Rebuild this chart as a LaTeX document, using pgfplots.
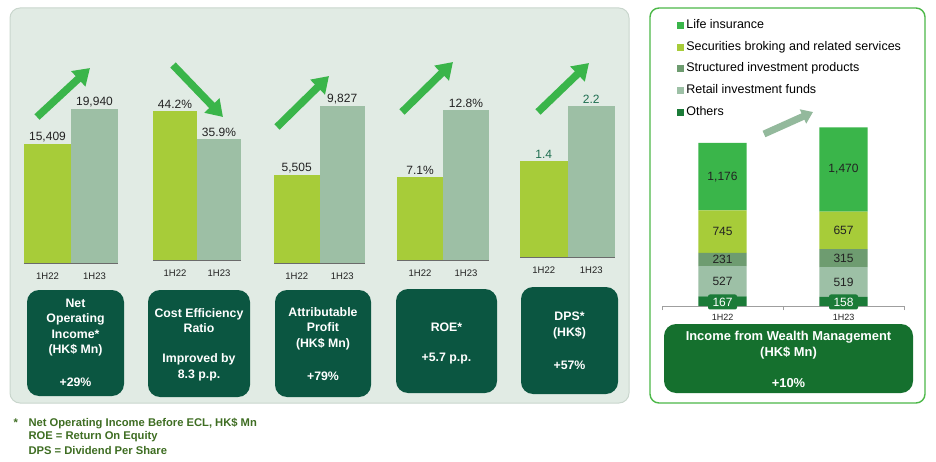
\documentclass[border=0pt]{standalone}
\usepackage{fontspec}
\setmainfont{Liberation Sans}
\usepackage{pgfplots}
\pgfplotsset{compat=1.18}
\usetikzlibrary{arrows.meta}

\definecolor{panelfill}{HTML}{E1EBE4}
\definecolor{panelborder}{HTML}{C9D6CD}
\definecolor{bar22}{HTML}{A7CC39}
\definecolor{bar23}{HTML}{9DBFA5}
\definecolor{arrowgreen}{HTML}{3AB54A}
\definecolor{boxdark}{HTML}{0B5641}
\definecolor{boxgreen}{HTML}{15702E}
\definecolor{lifegreen}{HTML}{3AB54A}
\definecolor{secgreen}{HTML}{A7CC39}
\definecolor{structgreen}{HTML}{6E9C70}
\definecolor{retailgreen}{HTML}{9DC0A6}
\definecolor{othersgreen}{HTML}{1B7B38}
\definecolor{rborder}{HTML}{4CB848}
\definecolor{footgreen}{HTML}{3E6D22}
\definecolor{valdark}{HTML}{1E6E50}
\definecolor{rarrow}{HTML}{93B99C}
\definecolor{textdark}{HTML}{222222}
\definecolor{axisgray}{HTML}{6B6B6B}

\pgfplotsset{
  /pgf/number format/assume math mode=true,
  mini/.style={
    scale only axis, clip=false, ybar, bar shift=0pt, bar width=1,
    enlargelimits=false, xmin=-0.5, xmax=1.5, ymin=0,
    axis x line=bottom, axis y line=none,
    x axis line style={-, draw=axisgray, line width=0.8pt},
    xtick={0,1}, xticklabels={1H22,1H23}, major tick length=0pt,
    xticklabel style={font=\fontsize{9.5}{11}\selectfont, text=textdark, yshift=-6.5pt},
    nodes near coords,
    every node near coord/.append style={font=\fontsize{12}{14}\selectfont, text=textdark, inner sep=2pt},
  },
}

\tikzset{
  boxtxt/.style={align=center, text=white, font=\bfseries\fontsize{12.3}{15.5}\selectfont},
  bigarrow/.style={line width=7.5pt, arrowgreen, -{Triangle[width=20pt,length=16pt]}},
  stlab/.style={font=\fontsize{12}{14}\selectfont, text=textdark},
  otherlab/.style={stlab, fill=othersgreen, text=white, rounded corners=2pt, inner sep=1.5pt, minimum width=29pt, minimum height=15pt},
}

\begin{document}
\begin{tikzpicture}[x=1pt,y=1pt]
\useasboundingbox (0,0) rectangle (936,-462);

% panels
\draw[fill=panelfill, draw=panelborder, line width=1pt, rounded corners=10pt] (10,-8) rectangle (629,-403);
\draw[fill=white, draw=rborder, line width=1.4pt, rounded corners=9pt] (650,-8) rectangle (925,-403);

% mini bar charts
\begin{axis}[mini, at={(24pt,-263pt)}, anchor=south west, width=94pt, height=154pt, ymax=19940,
  /pgf/number format/fixed, /pgf/number format/precision=0, /pgf/number format/1000 sep={,}]
\addplot[fill=bar22, draw=none] coordinates {(0,15409)};
\addplot[fill=bar23, draw=none] coordinates {(1,19940)};
\end{axis}

\begin{axis}[mini, at={(153pt,-260pt)}, anchor=south west, width=88pt, height=149pt, ymax=44.2,
  nodes near coords={\pgfmathprintnumber[fixed,fixed zerofill,precision=1]{\pgfplotspointmeta}\%}]
\addplot[fill=bar22, draw=none] coordinates {(0,44.2)};
\addplot[fill=bar23, draw=none] coordinates {(1,35.9)};
\end{axis}

\begin{axis}[mini, at={(274pt,-263pt)}, anchor=south west, width=91pt, height=157pt, ymax=9827,
  /pgf/number format/fixed, /pgf/number format/precision=0, /pgf/number format/1000 sep={,}]
\addplot[fill=bar22, draw=none] coordinates {(0,5505)};
\addplot[fill=bar23, draw=none] coordinates {(1,9827)};
\end{axis}

\begin{axis}[mini, at={(397pt,-260pt)}, anchor=south west, width=92pt, height=150pt, ymax=12.8,
  nodes near coords={\pgfmathprintnumber[fixed,fixed zerofill,precision=1]{\pgfplotspointmeta}\%}]
\addplot[fill=bar22, draw=none] coordinates {(0,7.1)};
\addplot[fill=bar23, draw=none] coordinates {(1,12.8)};
\end{axis}

\begin{axis}[mini, at={(520pt,-257pt)}, anchor=south west, width=95pt, height=151pt, ymax=2.2,
  nodes near coords={\pgfmathprintnumber[fixed,fixed zerofill,precision=1]{\pgfplotspointmeta}},
  every node near coord/.append style={text=valdark}]
\addplot[fill=bar22, draw=none] coordinates {(0,1.4)};
\addplot[fill=bar23, draw=none] coordinates {(1,2.2)};
\end{axis}

% trend arrows
\draw[bigarrow] (37,-117) -- (90,-68);
\draw[bigarrow] (173,-65) -- (223,-117);
\draw[bigarrow] (277,-127) -- (329,-76);
\draw[bigarrow] (402,-112) -- (453,-62);
\draw[bigarrow] (538,-112) -- (589,-63);

% dark boxes
\fill[boxdark, rounded corners=12pt] (27,-290) rectangle (124,-396);
\node[boxtxt] at (75.5,-327.5) {Net\\Operating\\Income*\\(HK\$ Mn)};
\node[boxtxt] at (75.5,-382) {+29\%};

\fill[boxdark, rounded corners=12pt] (148,-290) rectangle (250,-397);
\node[boxtxt] at (199,-320.5) {Cost Efficiency\\Ratio};
\node[boxtxt] at (199,-367.5) {Improved by\\8.3 p.p.};

\fill[boxdark, rounded corners=12pt] (275,-290) rectangle (371,-397);
\node[boxtxt] at (323,-328.5) {Attributable\\Profit\\(HK\$ Mn)};
\node[boxtxt] at (323,-376) {+79\%};

\fill[boxdark, rounded corners=12pt] (396,-289) rectangle (497,-393);
\node[boxtxt] at (446.5,-327) {ROE*};
\node[boxtxt] at (446.5,-359) {+5.7 p.p.};

\fill[boxdark, rounded corners=12pt] (521,-287) rectangle (618,-394);
\node[boxtxt] at (569.5,-325.5) {DPS*\\(HK\$)};
\node[boxtxt] at (569.5,-365) {+57\%};

% footnotes
\begin{scope}[every node/.style={anchor=west, text=footgreen, font=\bfseries\fontsize{11.2}{13}\selectfont}]
\node at (10,-423) {*};
\node at (25,-424) {Net Operating Income Before ECL, HK\$ Mn};
\node at (25,-437) {ROE = Return On Equity};
\node at (25,-450) {DPS = Dividend Per Share};
\end{scope}

% wealth management stacked chart
\begin{axis}[scale only axis, clip=false, ybar stacked, bar width=0.397, enlargelimits=false,
  xmin=-0.5, xmax=1.5, ymin=0, ymax=3000, width=242pt, height=171.9pt,
  at={(662pt,-306pt)}, anchor=south west,
  axis x line=bottom, axis y line=none,
  x axis line style={-, draw=gray!75, line width=0.7pt},
  xtick={0,1}, xticklabels={1H22,1H23}, major tick length=0pt,
  minor xtick={-0.5,0.5,1.5}, minor tick length=4pt, tick align=outside,
  minor tick style={draw=gray!75, line width=0.7pt},
  xticklabel style={font=\fontsize{9}{10}\selectfont, text=textdark, yshift=-5pt},
  legend style={at={(0.05,1.69)}, anchor=north west, draw=none, fill=none,
    font=\fontsize{12.5}{14}\selectfont, row sep=6.9pt,
    nodes={text height=8.5pt, text depth=2.5pt, inner sep=2pt}},
  legend cell align=left, reverse legend,
  legend image code/.code={\fill[#1] (0pt,-3.5pt) rectangle (7pt,3.5pt);},
]
\addplot[fill=othersgreen, draw=none] coordinates {(0,167) (1,158)};
\addlegendentry{Others}
\addplot[fill=retailgreen, draw=none] coordinates {(0,527) (1,519)};
\addlegendentry{Retail investment funds}
\addplot[fill=structgreen, draw=none] coordinates {(0,231) (1,315)};
\addlegendentry{Structured investment products}
\addplot[fill=secgreen, draw=none] coordinates {(0,745) (1,657)};
\addlegendentry{Securities broking and related services}
\addplot[fill=lifegreen, draw=none] coordinates {(0,1176) (1,1470)};
\addlegendentry{Life insurance}

\coordinate (a5) at (axis cs:0,2258);
\coordinate (a4) at (axis cs:0,1297.5);
\coordinate (a3) at (axis cs:0,809.5);
\coordinate (a2) at (axis cs:0,430.5);
\coordinate (a1) at (axis cs:0,70);
\coordinate (b5) at (axis cs:1,2384);
\coordinate (b4) at (axis cs:1,1320.5);
\coordinate (b3) at (axis cs:1,834.5);
\coordinate (b2) at (axis cs:1,417.5);
\coordinate (b1) at (axis cs:1,70);
\end{axis}

% segment labels
\node[stlab] at (a5) {1,176};
\node[stlab] at (a4) {745};
\node[stlab] at (a3) {231};
\node[stlab] at (a2) {527};
\node[otherlab] at (a1) {167};
\node[stlab] at (b5) {1,470};
\node[stlab] at (b4) {657};
\node[stlab] at (b3) {315};
\node[stlab] at (b2) {519};
\node[otherlab] at (b1) {158};

\draw[line width=7pt, rarrow, -{Triangle[width=15pt,length=11pt]}] (764,-134) -- (813,-112);

\fill[boxgreen, rounded corners=12pt] (664,-324) rectangle (913,-393);
\node[boxtxt, font=\bfseries\fontsize{12.9}{16.5}\selectfont] at (788.5,-345) {Income from Wealth Management\\(HK\$ Mn)};
\node[boxtxt, font=\bfseries\fontsize{12.9}{14}\selectfont] at (788.5,-383) {+10\%};

\end{tikzpicture}
\end{document}
